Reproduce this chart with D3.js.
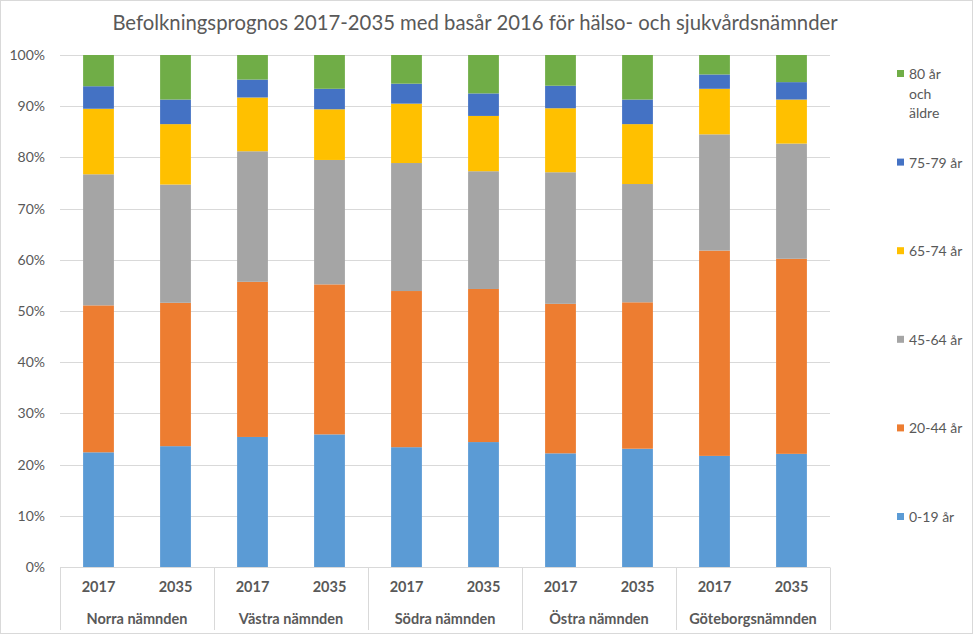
<!DOCTYPE html>
<html>
<head>
<meta charset="utf-8">
<script src="https://cdn.jsdelivr.net/npm/d3@7"></script>
<style>
  body { margin: 0; background: #fff; }
  text { font-family: Lato, "Open Sans", sans-serif; fill: #595959; }
</style>
</head>
<body>
<div id="chart"></div>
<script>
// categories
const groups = ["Norra nämnden", "Västra nämnden", "Södra nämnden", "Östra nämnden", "Göteborgsnämnden"]
const years = ["2017", "2035"]
const seriesNames = ["0-19 år", "20-44 år", "45-64 år", "65-74 år", "75-79 år", "80 år och äldre"]
const seriesColors = ["#5B9BD5", "#ED7D31", "#A5A5A5", "#FFC000", "#4472C4", "#70AD47"]

// share of population (%) per bar, bars in order group x year
const age0_19  = [22.4, 23.6, 25.4, 25.9, 23.4, 24.4, 22.2, 23.1, 21.7, 22.1]
const age20_44 = [28.7, 28.0, 30.3, 29.3, 30.5, 29.9, 29.2, 28.6, 40.1, 38.1]
const age45_64 = [25.6, 23.1, 25.5, 24.3, 25.0, 23.0, 25.7, 23.1, 22.7, 22.5]
const age65_74 = [12.8, 11.8, 10.5,  9.9, 11.6, 10.8, 12.5, 11.7,  8.9,  8.6]
const age75_79 = [ 4.4,  4.8,  3.5,  4.0,  3.9,  4.4,  4.4,  4.8,  2.8,  3.4]
const age80    = [ 6.1,  8.7,  4.8,  6.6,  5.6,  7.5,  6.0,  8.7,  3.8,  5.3]

const yTicks = [0, 10, 20, 30, 40, 50, 60, 70, 80, 90, 100]

function main(){
  const width = 976
  const height = 636
  const margin = {top: 55, right: 146, bottom: 69, left: 60}

  const svg = d3.select("#chart")
    .append("svg")
    .attr("width", width)
    .attr("height", height)

  // outer frame
  svg.append("rect")
    .attr("x", 0.5).attr("y", 0.5)
    .attr("width", 972).attr("height", 633)
    .attr("fill", "none")
    .attr("stroke", "#d9d9d9")

  // build rows for the stack
  const seriesValues = [age0_19, age20_44, age45_64, age65_74, age75_79, age80]
  const rows = []
  groups.forEach((g, gi) => {
    years.forEach((yr, yi) => {
      const i = gi * years.length + yi
      const row = {key: g + "|" + yr, group: g, year: yr}
      const total = d3.sum(seriesValues, s => s[i])
      seriesNames.forEach((n, si) => { row[n] = seriesValues[si][i] / total * 100 })
      rows.push(row)
    })
  })

  const stack = d3.stack().keys(seriesNames)
  const stacked = stack(rows)

  const x = d3.scaleBand()
    .domain(rows.map(d => d.key))
    .range([margin.left, width - margin.right])
    .paddingInner(0.6)
    .paddingOuter(0.3)

  const y = d3.scaleLinear()
    .domain([0, 100])
    .range([height - margin.bottom, margin.top])

  const color = d3.scaleOrdinal(seriesNames, seriesColors)

  // gridlines
  svg.append("g")
    .selectAll("line")
    .data(yTicks.filter(t => t > 0))
    .join("line")
    .attr("x1", margin.left)
    .attr("x2", width - margin.right)
    .attr("y1", d => Math.round(y(d)) + 0.5)
    .attr("y2", d => Math.round(y(d)) + 0.5)
    .attr("stroke", "#d9d9d9")

  // y axis labels
  const yAxis = d3.axisLeft(y)
    .tickValues(yTicks)
    .tickFormat(d => d + "%")
    .tickSize(0)
    .tickPadding(15)
  svg.append("g")
    .attr("transform", `translate(${margin.left},0)`)
    .call(yAxis)
    .call(g => g.select(".domain").remove())
    .selectAll("text")
    .style("font-size", "14px")
    .attr("fill", "#595959")

  // bars
  svg.append("g")
    .selectAll("g")
    .data(stacked)
    .join("g")
    .attr("fill", d => color(d.key))
    .selectAll("rect")
    .data(d => d)
    .join("rect")
    .attr("x", d => x(d.data.key))
    .attr("width", x.bandwidth())
    .attr("y", d => y(d[1]))
    .attr("height", d => y(d[0]) - y(d[1]))

  // x axis baseline
  const base = Math.round(y(0)) + 0.5
  svg.append("line")
    .attr("x1", margin.left).attr("x2", width - margin.right)
    .attr("y1", base).attr("y2", base)
    .attr("stroke", "#d9d9d9")

  // group separators
  const step = x.step() * years.length
  const seps = d3.range(groups.length + 1).map(i => margin.left + i * step)
  svg.append("g")
    .selectAll("line")
    .data(seps)
    .join("line")
    .attr("x1", d => Math.round(d) + 0.5)
    .attr("x2", d => Math.round(d) + 0.5)
    .attr("y1", base)
    .attr("y2", 630)
    .attr("stroke", "#d9d9d9")

  // year labels
  svg.append("g")
    .selectAll("text")
    .data(rows)
    .join("text")
    .attr("x", d => x(d.key) + x.bandwidth() / 2)
    .attr("y", 592)
    .attr("text-anchor", "middle")
    .style("font-size", "14.5px")
    .style("font-weight", "bold")
    .text(d => d.year)

  // group labels
  svg.append("g")
    .selectAll("text")
    .data(groups)
    .join("text")
    .attr("x", (d, i) => margin.left + (i + 0.5) * step)
    .attr("y", 624)
    .attr("text-anchor", "middle")
    .style("font-size", "14.5px")
    .style("font-weight", "bold")
    .text(d => d)

  // title
  svg.append("text")
    .attr("x", 475)
    .attr("y", 30)
    .attr("text-anchor", "middle")
    .style("font-size", "20.3px")
    .text("Befolkningsprognos 2017-2035 med basår 2016 för hälso- och sjukvårdsnämnder")

  // legend, top item is the last series
  const legendItems = seriesNames.slice().reverse()
  const ly = d3.scalePoint()
    .domain(legendItems)
    .range([74, 517])
  const legend = svg.append("g")
    .selectAll("g")
    .data(legendItems)
    .join("g")
    .attr("transform", d => `translate(897,${ly(d)})`)
  legend.append("rect")
    .attr("x", 0).attr("y", -4)
    .attr("width", 7).attr("height", 7)
    .attr("fill", d => color(d))
  legend.append("text")
    .attr("x", 12)
    .attr("y", 5)
    .style("font-size", "14px")
    .each(function(d){
      const lines = d === "80 år och äldre" ? ["80 år", "och", "äldre"] : [d]
      d3.select(this).selectAll("tspan")
        .data(lines)
        .join("tspan")
        .attr("x", 12)
        .attr("dy", (l, i) => i === 0 ? 0 : 19.5)
        .text(l => l)
    })
}
main();
</script>
</body>
</html>
